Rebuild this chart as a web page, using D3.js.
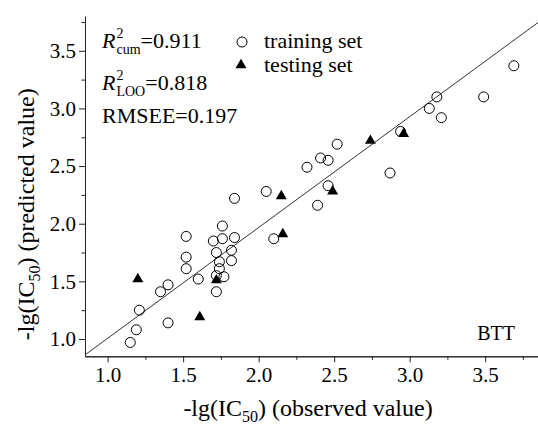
<!DOCTYPE html>
<html>
<head>
<meta charset="utf-8">
<script src="https://cdn.jsdelivr.net/npm/d3@7"></script>
<style>
  html, body { margin: 0; padding: 0; background: #fff; }
  svg { display: block; }
  text { font-family: "Liberation Serif", "Times New Roman", serif; fill: #000; }
</style>
</head>
<body>
<svg id="chart" width="538" height="425"></svg>
<script>
// ---- data ----
const trainObs  = [1.15,1.19,1.21,1.35,1.40,1.40,1.52,1.52,1.52,1.60,1.70,1.72,1.72,1.74,1.74,1.72,1.77,1.76,1.76,1.82,1.82,1.84,1.84,2.05,2.10,2.32,2.41,2.46,2.52,2.46,2.39,2.87,2.94,3.13,3.18,3.21,3.49,3.69];
const trainPred = [0.97,1.08,1.25,1.41,1.47,1.14,1.89,1.71,1.61,1.52,1.85,1.41,1.75,1.67,1.61,1.55,1.54,1.98,1.87,1.77,1.68,1.88,2.22,2.28,1.87,2.49,2.57,2.55,2.69,2.33,2.16,2.44,2.80,3.00,3.10,2.92,3.10,3.37];
const testObs   = [1.20,1.61,1.72,2.15,2.16,2.49,2.74,2.96];
const testPred  = [1.52,1.19,1.51,2.24,1.91,2.28,2.72,2.78];
const fitX = [0.85, 3.85];
const fitY = [0.862, 3.745];
const xTicks = [1.0,1.5,2.0,2.5,3.0,3.5];
const yTicks = [1.0,1.5,2.0,2.5,3.0,3.5];
const xMinor = [1.25,1.75,2.25,2.75,3.25,3.75];
const yMinor = [1.25,1.75,2.25,2.75,3.25,3.75];
const stats = [
  {sub: "cum", value: "=0.911"},
  {sub: "LOO", value: "=0.818"}
];
const rmseeLabel = "RMSEE=0.197";
const legendItems = ["training set", "testing set"];
const panelLabel = "BTT";

// ---- layout ----
const svg = d3.select("#chart");
const x = d3.scaleLinear().domain([0.85, 3.85]).range([85, 538]);
const y = d3.scaleLinear().domain([0.85, 3.8]).range([356.3, 16.2]);
const axisColor = "#222";
const serif = '"Liberation Serif", "Times New Roman", serif';

// axes: minor ticks
const gxMinor = svg.append("g").attr("transform", `translate(0,${y(0.85)})`)
  .call(d3.axisBottom(x).tickValues(xMinor).tickSize(3.5).tickSizeOuter(0).tickFormat(""));
const gyMinor = svg.append("g").attr("transform", `translate(${x(0.85)},0)`)
  .call(d3.axisLeft(y).tickValues(yMinor).tickSize(3.5).tickSizeOuter(0).tickFormat(""));
// axes: major ticks
const gx = svg.append("g").attr("transform", `translate(0,${y(0.85)})`)
  .call(d3.axisBottom(x).tickValues(xTicks).tickSize(6).tickSizeOuter(0).tickPadding(5).tickFormat(d3.format(".1f")));
const gy = svg.append("g").attr("transform", `translate(${x(0.85)},0)`)
  .call(d3.axisLeft(y).tickValues(yTicks).tickSize(6).tickSizeOuter(0).tickPadding(3).tickFormat(d3.format(".1f")));

[gx, gy, gxMinor, gyMinor].forEach(g => {
  g.selectAll("path.domain").attr("stroke", axisColor).attr("stroke-width", 1);
  g.selectAll(".tick line").attr("stroke", axisColor).attr("stroke-width", 1);
  g.selectAll(".tick text").attr("font-family", serif).attr("font-size", 21).attr("fill", "#000");
});

// fit line
svg.append("line")
  .attr("x1", x(fitX[0])).attr("y1", y(fitY[0]))
  .attr("x2", x(fitX[1])).attr("y2", y(fitY[1]))
  .attr("stroke", "#333").attr("stroke-width", 1);

// training points
svg.append("g").selectAll("circle").data(trainObs.map((o,i)=>[o, trainPred[i]]))
  .join("circle")
  .attr("cx", d => x(d[0])).attr("cy", d => y(d[1])).attr("r", 5)
  .attr("fill", "none").attr("stroke", "#000").attr("stroke-width", 1);

// testing points
const tri = d3.symbol().type(d3.symbolTriangle).size(52);
svg.append("g").selectAll("path").data(testObs.map((o,i)=>[o, testPred[i]]))
  .join("path")
  .attr("d", tri)
  .attr("transform", d => `translate(${x(d[0])},${y(d[1])})`)
  .attr("fill", "#000");

// stats text
const statX = 102, statY = [48, 90];
stats.forEach((s, i) => {
  const base = statY[i];
  const R = svg.append("text").attr("x", statX).attr("y", base)
    .attr("font-size", 22).attr("font-style", "italic").text("R");
  const rw = R.node().getComputedTextLength();
  svg.append("text").attr("x", statX + rw + 1).attr("y", base - 10)
    .attr("font-size", 14).text("2");
  const sub = svg.append("text").attr("x", statX + rw + 1).attr("y", base + 6)
    .attr("font-size", 14).text(s.sub);
  const sw = sub.node().getComputedTextLength();
  svg.append("text").attr("x", statX + rw + 1 + sw).attr("y", base)
    .attr("font-size", 22).text(s.value);
});
svg.append("text").attr("x", statX).attr("y", 123).attr("font-size", 22).text(rmseeLabel);

// legend
svg.append("circle").attr("cx", 242).attr("cy", 42).attr("r", 5)
  .attr("fill", "none").attr("stroke", "#000").attr("stroke-width", 1);
svg.append("path").attr("d", tri).attr("transform", "translate(241,65)").attr("fill", "#000");
svg.append("text").attr("x", 264).attr("y", 48).attr("font-size", 22).text(legendItems[0]);
svg.append("text").attr("x", 264).attr("y", 72).attr("font-size", 22).text(legendItems[1]);

// panel label
svg.append("text").attr("x", 515).attr("y", 340).attr("text-anchor", "end")
  .attr("font-size", 20).text(panelLabel);

// axis titles
const xt = svg.append("text").attr("x", 308).attr("y", 416)
  .attr("text-anchor", "middle").attr("font-size", 24);
xt.append("tspan").text("-lg(IC");
xt.append("tspan").attr("font-size", 16).attr("dy", 6).text("50");
xt.append("tspan").attr("dy", -6).text(") (observed value)");

const yt = svg.append("text")
  .attr("transform", `translate(34,${(y(0.85) + y(3.8)) / 2 + 28}) rotate(-90)`)
  .attr("text-anchor", "middle").attr("font-size", 24);
yt.append("tspan").text("-lg(IC");
yt.append("tspan").attr("font-size", 16).attr("dy", 6).text("50");
yt.append("tspan").attr("dy", -6).text(") (predicted value)");
</script>
</body>
</html>
